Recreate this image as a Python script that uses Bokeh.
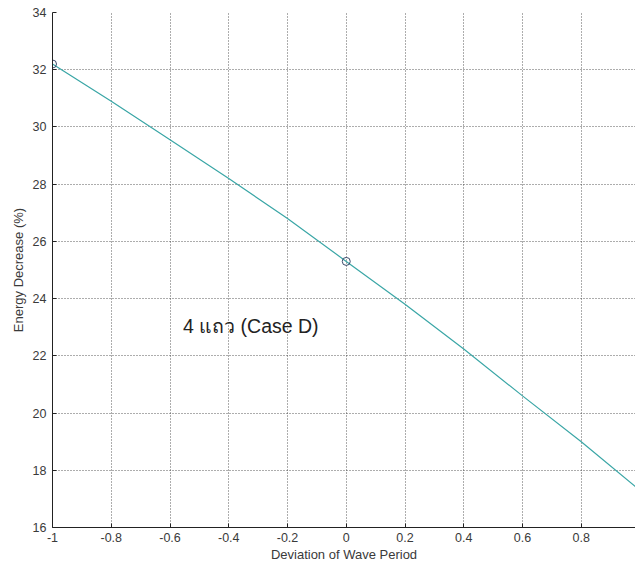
from bokeh.plotting import figure
from bokeh.models import FixedTicker, Range1d, Label
from bokeh.embed import file_html
from bokeh.resources import INLINE

# Data
x_line = [-1.0, -0.8, -0.6, -0.4, -0.2, 0.0, 0.2, 0.4, 0.6, 0.8, 1.0]
y_line = [32.2, 30.9, 29.55, 28.2, 26.8, 25.3, 23.8, 22.24, 20.6, 19.0, 17.3]
x_marks = [-1.0, 0.0]
y_marks = [32.2, 25.3]
x_ticks = [-1.0, -0.8, -0.6, -0.4, -0.2, 0.0, 0.2, 0.4, 0.6, 0.8, 1.0]
x_tick_labels = ["-1", "-0.8", "-0.6", "-0.4", "-0.2", "0", "0.2", "0.4", "0.6", "0.8", "1"]
y_ticks = [16, 18, 20, 22, 24, 26, 28, 30, 32, 34]
annotation = "4 แถว (Case D)"
x_title = "Deviation of Wave Period"
y_title = "Energy Decrease (%)"

W, H = 635, 566
left, top, bottom = 52, 12, 39
frame_w = W - left
px_per_unit = 293.75

p = figure(width=W, height=H, output_backend="svg", toolbar_location=None,
           x_range=Range1d(-1.0, -1.0 + frame_w / px_per_unit),
           y_range=Range1d(16, 34),
           min_border_left=left, min_border_right=0,
           min_border_top=top, min_border_bottom=bottom)
p.outline_line_color = None
p.background_fill_color = "white"
p.border_fill_color = "white"

font = "Liberation Sans"
for ax in (p.xaxis[0], p.yaxis[0]):
    ax.major_tick_in = 4
    ax.major_tick_out = 0
    ax.minor_tick_in = 0
    ax.minor_tick_out = 0
    ax.axis_line_color = "#222222"
    ax.major_tick_line_color = "#222222"
    ax.major_label_text_font = font
    ax.major_label_text_font_size = "12.5px"
    ax.major_label_text_color = "#3a3a3a"
    ax.axis_label_text_font = font
    ax.axis_label_text_font_size = "13px"
    ax.axis_label_text_font_style = "normal"
    ax.axis_label_text_color = "#3a3a3a"

p.xaxis.ticker = FixedTicker(ticks=x_ticks)
p.xaxis.major_label_overrides = {t: l for t, l in zip(x_ticks, x_tick_labels)}
p.xaxis.major_label_standoff = 5
p.xaxis.axis_label = x_title
p.xaxis.axis_label_standoff = 2

p.yaxis.ticker = FixedTicker(ticks=y_ticks)
p.yaxis.major_label_standoff = 6
p.yaxis.axis_label = y_title
p.yaxis.axis_label_standoff = 4

for g in (p.xgrid[0], p.ygrid[0]):
    g.grid_line_color = "#333333"
    g.grid_line_dash = "1 2"
    g.grid_line_width = 1
    g.grid_line_alpha = 0.8

p.line(x_line, y_line, line_color="#3aa6a6", line_width=1.2)
p.scatter(x_marks, y_marks, marker="circle", size=8, fill_color=None,
          line_color="#3b4a6b", line_width=1)

p.add_layout(Label(x=-0.556, y=23.05, text=annotation,
                   text_font="Liberation Sans", text_font_size="19.5px",
                   text_color="#222222", text_baseline="alphabetic"))

open("out.html", "w").write(file_html(p, INLINE))
